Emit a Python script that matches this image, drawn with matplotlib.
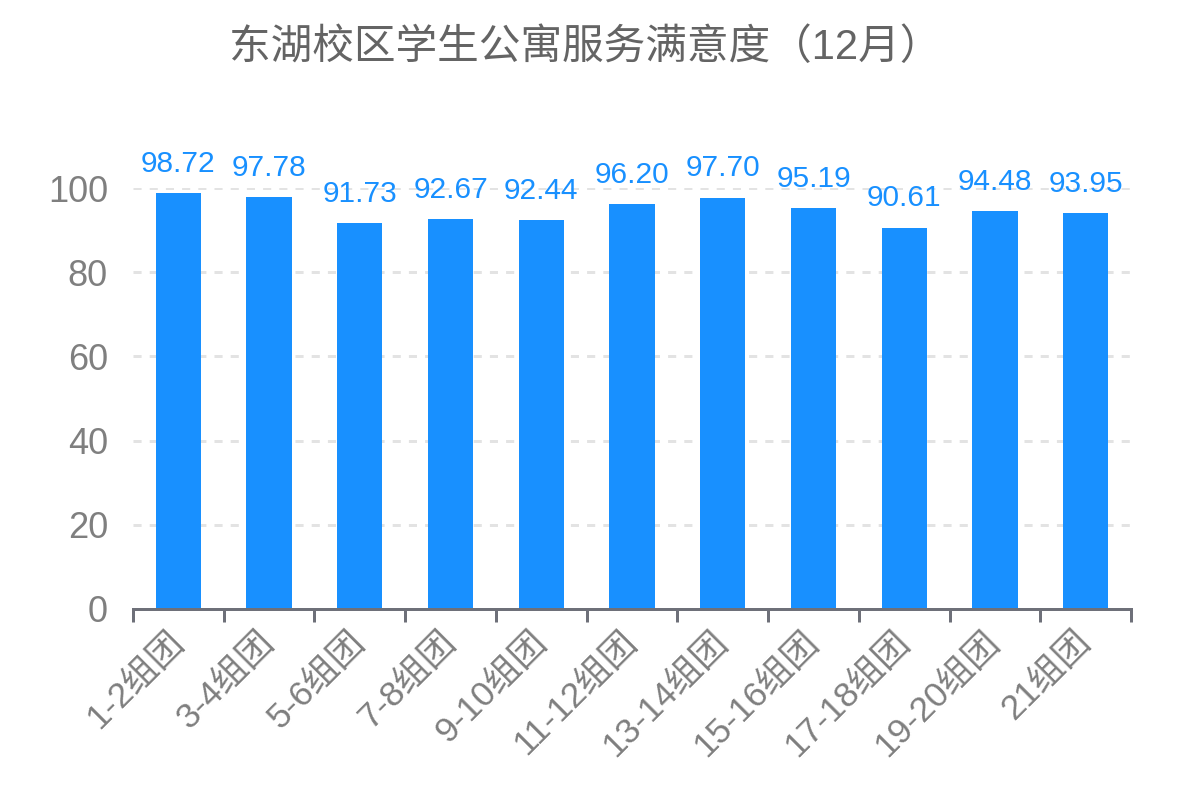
import matplotlib
matplotlib.use("Agg")
import matplotlib.pyplot as plt
import numpy as np

plt.rcParams['font.family'] = ['Liberation Sans', 'Noto Sans CJK SC', 'DejaVu Sans']

# 数据
categories = ['1-2组团', '3-4组团', '5-6组团', '7-8组团', '9-10组团', '11-12组团',
              '13-14组团', '15-16组团', '17-18组团', '19-20组团', '21组团']
scores = [98.72, 97.78, 91.73, 92.67, 92.44, 96.20, 97.70, 95.19, 90.61, 94.48, 93.95]
y_ticks = [0, 20, 40, 60, 80, 100]
title = '东湖校区学生公寓服务满意度（12月）'

BAR = '#1890ff'
AXIS = '#6e7079'
LABEL = '#7f7f7f'

fig = plt.figure(figsize=(11.79, 8.07), dpi=100)
ax = fig.add_axes([0.1128, 0.2454, 0.9593 - 0.1128, 0.767 - 0.2454])

x = np.arange(len(categories))
bars = ax.bar(x, scores, width=0.5, color=BAR, zorder=3)

for xi, v in zip(x, scores):
    ax.annotate('%.2f' % v, (xi, v), xytext=(0, 11), textcoords='offset points',
                ha='center', va='bottom', fontsize=21.5, color=BAR,
                annotation_clip=False)

ax.set_xlim(-0.5, len(categories) - 0.5)
ax.set_ylim(0, 100)

# 刻度线在类目边界，标签在类目中心
ax.set_xticks(np.arange(len(categories) + 1) - 0.5)
ax.set_xticklabels([])
ax.set_xticks(x, minor=True)
ax.set_xticklabels(categories, minor=True, rotation=45, ha='right', va='center',
                   rotation_mode='anchor', fontsize=25.5, color=LABEL)
ax.tick_params(axis='x', which='major', length=9.5, width=2.16, color=AXIS, direction='out')
ax.tick_params(axis='x', which='minor', length=0, pad=20)

ax.set_yticks(y_ticks)
ax.tick_params(axis='y', length=0, pad=18, labelsize=26, labelcolor=LABEL)

for s in ['left', 'right', 'top']:
    ax.spines[s].set_visible(False)
ax.spines['bottom'].set_color(AXIS)
ax.spines['bottom'].set_linewidth(2.16)
ax.spines['bottom'].set_zorder(4)

ax.yaxis.grid(True, color='#e3e3e3', linewidth=2.16, linestyle=(0, (2.7, 2.7)), zorder=0)
ax.set_axisbelow(True)

fig.text(0.4962, 0.9405, title, ha='center', va='center', fontsize=30, color='#646464')

fig.savefig('out.png', dpi=100)
